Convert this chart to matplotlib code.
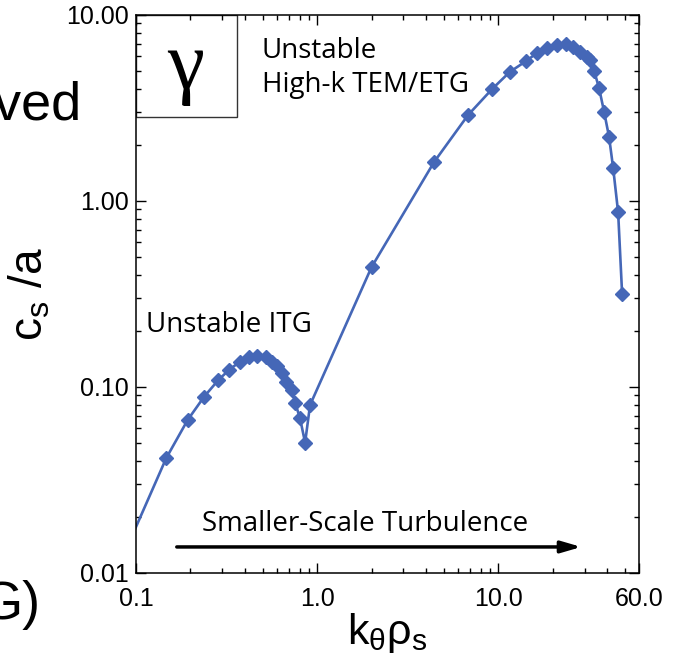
import matplotlib
matplotlib.use("Agg")
import matplotlib.pyplot as plt
from matplotlib.patches import Rectangle

# growth rate gamma vs k_theta rho_s
k_rho = [0.09, 0.147, 0.193, 0.238, 0.285, 0.328, 0.376, 0.423, 0.464, 0.523,
         0.562, 0.599, 0.638, 0.674, 0.725, 0.756, 0.805, 0.859, 0.915,
         2.0, 4.43, 6.83, 9.27, 11.6, 14.3, 16.4, 18.7, 21.2, 23.8, 25.9,
         28.4, 31.0, 32.2, 33.9, 36.1, 38.5, 41.0, 43.2, 46.0, 48.4]
gamma = [0.0140, 0.0415, 0.0665, 0.0887, 0.109, 0.124, 0.137, 0.145, 0.147, 0.145,
         0.137, 0.130, 0.119, 0.107, 0.0964, 0.0824, 0.068, 0.0502, 0.080,
         0.441, 1.62, 2.90, 4.0, 4.94, 5.66, 6.25, 6.65, 6.9, 6.98, 6.73,
         6.33, 5.95, 5.73, 5.0, 4.05, 3.01, 2.21, 1.5, 0.87, 0.316]

xticks = [0.1, 1.0, 10.0, 60.0]
xtick_labels = ["0.1", "1.0", "10.0", "60.0"]
yticks = [0.01, 0.1, 1.0, 10.0]
ytick_labels = ["0.01", "0.10", "1.00", "10.00"]

blue = "#4567b7"
sans = "Liberation Sans"
myriad = "Open Sans"

plt.rcParams["mathtext.fontset"] = "custom"
plt.rcParams["mathtext.rm"] = sans
plt.rcParams["mathtext.it"] = sans

fig = plt.figure(figsize=(6.83, 6.57), dpi=100)
ax = fig.add_axes([0.1991, 0.1279, 0.7365, 0.8493])

ax.plot(k_rho, gamma, color=blue, lw=1.9, marker="D", ms=7, mec=blue, mfc=blue)

ax.set_xscale("log")
ax.set_yscale("log")
ax.set_xlim(0.1, 60)
ax.set_ylim(0.01, 10)

ax.set_xticks(xticks)
ax.set_xticklabels(xtick_labels, fontname=sans, fontsize=18)
ax.set_yticks(yticks)
ax.set_yticklabels(ytick_labels, fontname=sans, fontsize=18)
ax.tick_params(which="both", direction="in", top=True, right=True, width=1)
ax.tick_params(which="major", length=7)
ax.tick_params(which="minor", length=3.5)
ax.tick_params(axis="x", which="major", pad=10)
ax.tick_params(axis="y", which="major", pad=5)
for s in ax.spines.values():
    s.set_linewidth(1.1)

ax.set_xlabel("k$_\\mathregular{\u03b8}$\u03c1$_\\mathregular{s}$", fontname=sans,
              fontsize=31, labelpad=0)
ax.set_ylabel("c$_\\mathregular{s}$ /a", fontname=sans, fontsize=33, labelpad=10)

# gamma label box
ax.add_patch(Rectangle((0, 0.817), 0.2, 0.183, transform=ax.transAxes,
                       fill=False, edgecolor="#333333", lw=1))
ax.text(0.098, 0.905, "\u03b3", transform=ax.transAxes, ha="center", va="center",
        fontname="Liberation Serif", fontsize=60)

ax.text(0.25, 0.905, "Unstable\nHigh-k TEM/ETG", transform=ax.transAxes,
        ha="left", va="center", fontname=myriad, fontsize=20, linespacing=1.25)
ax.text(0.02, 0.445, "Unstable ITG", transform=ax.transAxes,
        ha="left", va="center", fontname=myriad, fontsize=20)

ax.annotate("", xy=(28.8, 0.0138), xytext=(0.168, 0.0138),
            arrowprops=dict(arrowstyle="-|>,head_length=1.2,head_width=0.35",
                            color="black", lw=2.5, shrinkA=0, shrinkB=0))
ax.text(0.455, 0.087, "Smaller-Scale Turbulence", transform=ax.transAxes,
        ha="center", va="center", fontname=myriad, fontsize=20)

# bits of the neighbouring panel that are cut off on the left
fig.text(82 / 683, 1 - 105 / 657, "ived", ha="right", va="center",
         fontname=sans, fontsize=39)
fig.text(40 / 683, 1 - 605 / 657, "G)", ha="right", va="center",
         fontname=sans, fontsize=39)

fig.savefig("out.png", dpi=100)
